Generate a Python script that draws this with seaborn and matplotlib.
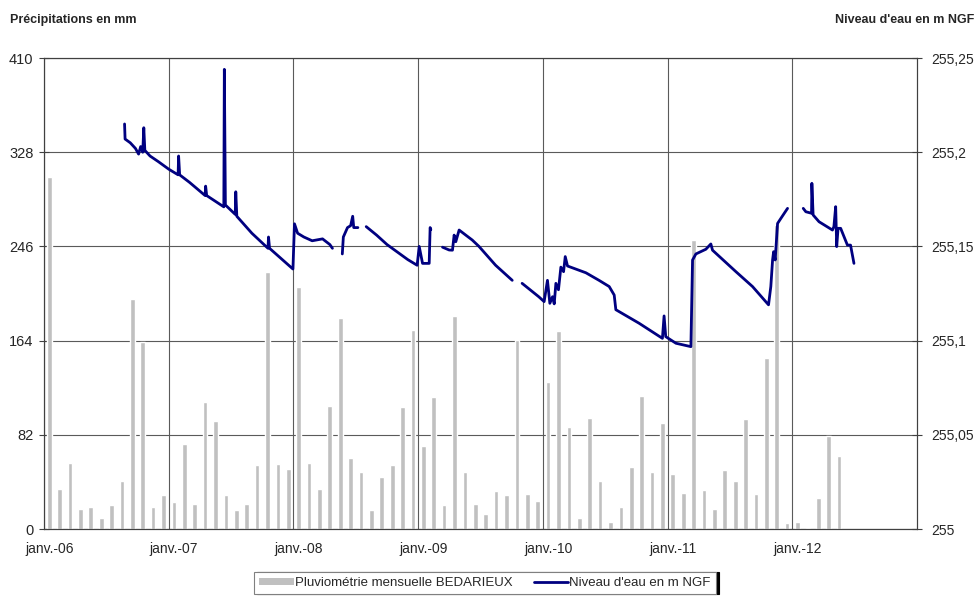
import numpy as np
import pandas as pd
import seaborn as sns
import matplotlib.pyplot as plt
from matplotlib.patches import Patch
from matplotlib.lines import Line2D

## ==============================
## données
# pluviométrie mensuelle (mm), janv.-06 -> mai-12
pluie_mm = [306, 34.5, 57.7, 17.7, 18.9, 9.9, 20.9, 41.8, 200, 163, 19.4, 29.6,
            23.8, 73.7, 21.5, 110.5, 93.7, 29.6, 16.2, 21.5, 55.7, 224, 56.3, 52.2,
            211, 57.7, 34.5, 107, 184, 62.1, 49.9, 16.5, 45.3, 55.4, 105.9, 173,
            72.2, 114.6, 20.9, 185.7, 49.6, 22.1, 13.1, 33.1, 29.6, 164.8, 30.2, 24.4,
            127.7, 172.4, 89.1, 9.9, 96.3, 41.8, 6.4, 19.2, 54.3, 115.8, 49.9, 92.6,
            47.9, 31.0, 252, 33.9, 17.4, 51.4, 41.8, 95.5, 30.2, 149, 265, 5.5,
            6.4, 0.8, 26.7, 81.2, 63.5]
mois_pluie = [i + 0.5 for i in range(len(pluie_mm))]

# niveau d'eau (m NGF), relevé par tronçons (mois depuis janv.-06)
seg1_mois = [7.75, 7.8, 8.3, 8.8, 9.1, 9.3, 9.5, 9.6, 9.7, 10.2, 11.0, 12.0, 12.9, 12.95, 13.05,
             14.0, 15.5, 15.55, 15.65, 17.3, 17.35, 17.45, 18.4, 18.45, 18.55, 20.0, 21.55,
             21.6, 21.7, 23.95, 24.1, 24.4, 25.0, 25.8, 26.8, 27.5, 27.75]
seg1_niv = [255.215, 255.207, 255.205, 255.202, 255.199, 255.203, 255.200, 255.213, 255.201,
            255.198, 255.195, 255.191, 255.188, 255.198, 255.188, 255.184, 255.177, 255.182,
            255.177, 255.171, 255.244, 255.172, 255.167, 255.179, 255.166, 255.157, 255.149,
            255.155, 255.149, 255.138, 255.162, 255.157, 255.155, 255.153, 255.154, 255.151,
            255.149]
seg2_mois = [28.7, 28.8, 29.2, 29.5, 29.7, 29.8, 30.2]
seg2_niv = [255.146, 255.155, 255.160, 255.161, 255.166, 255.160, 255.160]
seg3_mois = [31.0, 32.0, 33.0, 34.0, 35.0, 35.9, 36.1, 36.42, 37.06, 37.15, 37.22]
seg3_niv = [255.1605, 255.156, 255.151, 255.147, 255.143, 255.140, 255.150, 255.141,
            255.141, 255.160, 255.159]
seg4_mois = [38.34, 38.98, 39.3, 39.46, 39.62, 39.94, 40.58, 41.2, 41.85, 43.45, 45.05]
seg4_niv = [255.1496, 255.1481, 255.148, 255.156, 255.1525, 255.1587, 255.156, 255.1534,
            255.150, 255.140, 255.132]
seg5_mois = [46.0, 47.6, 48.12, 48.44, 48.67, 48.93, 49.09, 49.25, 49.5, 49.73, 49.99, 50.15,
             50.37, 52.14, 53.4, 54.38, 54.86, 55.02, 57.26, 59.5, 59.66, 59.82, 60.8, 62.24,
             62.4, 62.72, 63.68, 64.16, 64.32, 66.57, 68.17, 69.71, 69.93, 70.1, 70.2, 70.35,
             70.58, 70.9, 71.54]
seg5_niv = [255.1304, 255.1233, 255.1207, 255.132, 255.1198, 255.1233, 255.1195, 255.1304,
            255.127, 255.139, 255.1366, 255.1446, 255.1396, 255.136, 255.132, 255.1287,
            255.1242, 255.1164, 255.1092, 255.1012, 255.1131, 255.1021, 255.0986, 255.0968,
            255.1428, 255.146, 255.1485, 255.1513, 255.148, 255.1366, 255.1287, 255.119,
            255.1287, 255.1428, 255.1472, 255.1428, 255.1622, 255.1649, 255.1702]
seg6_mois = [73.05, 73.3, 73.85, 73.88, 74.0, 74.57, 75.86, 76.0, 76.17, 76.27, 76.4, 76.65,
             77.3, 77.6, 77.93]
seg6_niv = [255.1702, 255.1684, 255.1676, 255.1835, 255.1667, 255.1631, 255.1587, 255.1605,
            255.1711, 255.1499, 255.1596, 255.1596, 255.1507, 255.1507, 255.141]

annees = ['janv.-06', 'janv.-07', 'janv.-08', 'janv.-09', 'janv.-10', 'janv.-11', 'janv.-12']
ticks_pluie = [0, 82, 164, 246, 328, 410]
ticks_niv = [255, 255.05, 255.1, 255.15, 255.2, 255.25]

segments = [(seg1_mois, seg1_niv), (seg2_mois, seg2_niv), (seg3_mois, seg3_niv),
            (seg4_mois, seg4_niv), (seg5_mois, seg5_niv), (seg6_mois, seg6_niv)]
df_niv = pd.concat([pd.DataFrame({'mois': m, 'niveau': n, 'seg': k})
                    for k, (m, n) in enumerate(segments)], ignore_index=True)
df_pluie = pd.DataFrame({'mois': mois_pluie, 'pluie': pluie_mm})

## ==============================
## graphique
sns.set_style('white')
plt.rcParams['font.family'] = ['Liberation Sans', 'DejaVu Sans']

fig = plt.figure(figsize=(9.76, 5.97), dpi=100)
ax = fig.add_axes([0.0451, 0.1139, 0.8945, 0.7889])

sns.barplot(data=df_pluie, x='mois', y='pluie', native_scale=True, width=0.45,
            color='#c0c0c0', saturation=1, ax=ax)
ax.set_xlim(0, 84)
ax.set_ylim(0, 410)
ax.set_yticks(ticks_pluie)
ax.set_yticklabels([str(t) for t in ticks_pluie], fontsize=10.5)
# graduations annuelles (grille) + étiquettes légèrement décalées à droite
ax.set_xticks(range(0, 84, 12))
ax.set_xticklabels([])
ax.set_xticks([i * 12 + 0.5 for i in range(len(annees))], minor=True)
ax.set_xticklabels(annees, minor=True, fontsize=10)
ax.tick_params(axis='x', which='minor', length=0, pad=9)
ax.set_axisbelow(True)
ax.grid(True, which='major', color='#5a5a5a', linewidth=0.8)
ax.set_xlabel('')
ax.set_ylabel('')

ax2 = ax.twinx()
sns.lineplot(data=df_niv, x='mois', y='niveau', units='seg', estimator=None,
             color='#000080', linewidth=2, ax=ax2)
ax2.set_ylim(255, 255.25)
ax2.set_yticks(ticks_niv)
ax2.set_yticklabels([f'{t:g}'.replace('.', ',') for t in ticks_niv], fontsize=10)
ax2.set_xlim(0, 84)
ax2.set_xlabel('')
ax2.set_ylabel('')
ax2.grid(False)

for a in (ax, ax2):
    for s in a.spines.values():
        s.set_color('#404040')
        s.set_linewidth(0.8)
    a.tick_params(which='major', length=7, width=0.8, color='#404040', direction='inout')
ax.tick_params(axis='y', pad=4)
ax2.tick_params(axis='y', pad=7)

fig.text(0.010, 0.967, 'Précipitations en mm', fontsize=9, fontweight='bold', va='center')
fig.text(0.998, 0.967, "Niveau d'eau en m NGF", fontsize=9, fontweight='bold',
         va='center', ha='right')

handles = [Patch(facecolor='#c0c0c0', edgecolor='none'),
           Line2D([0], [0], color='#000080', linewidth=2)]
leg = fig.legend(handles, ['Pluviométrie mensuelle BEDARIEUX', "Niveau d'eau en m NGF"],
                 loc='upper center', bbox_to_anchor=(0.497, 0.042), ncol=2, fontsize=9.5,
                 frameon=True, fancybox=False, edgecolor='#808080', handlelength=2.6,
                 handleheight=0.4, columnspacing=1.6, borderpad=0.4, handletextpad=0.1,
                 borderaxespad=0, shadow={'color': 'black', 'alpha': 1, 'ox': 2, 'oy': 0})
leg.get_frame().set_linewidth(0.8)

fig.savefig('out.png', dpi=100)
